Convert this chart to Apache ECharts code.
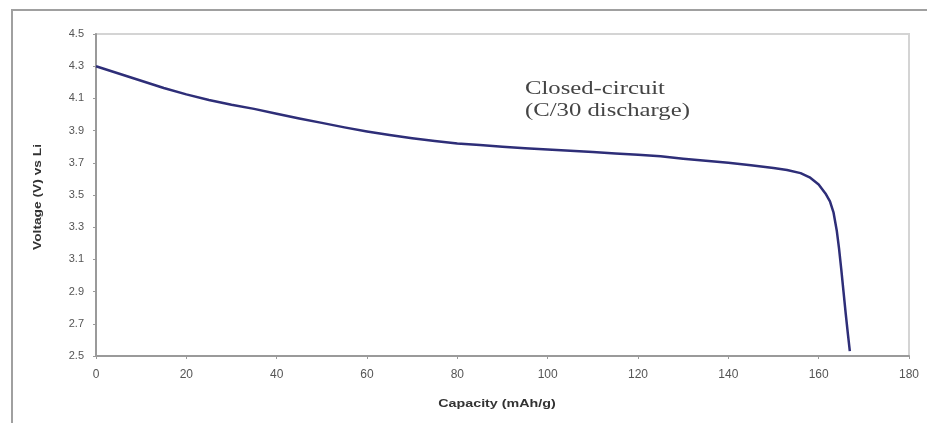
<!DOCTYPE html>
<html>
<head>
<meta charset="utf-8">
<script src="https://cdn.jsdelivr.net/npm/echarts@6/dist/echarts.min.js"></script>
<style>
  html, body { margin: 0; padding: 0; background: #fff; }
  #chart { width: 927px; height: 423px; }
</style>
</head>
<body>
<div id="chart"></div>
<script>
// Discharge curve: capacity (mAh/g) against cell voltage (V vs Li)
const capacity = [0, 5, 10, 15, 20, 25, 30, 35, 40, 45, 50, 55, 60, 65, 70, 75, 80, 85, 90, 95, 100, 105, 110, 115, 120, 125, 130, 135, 140, 145, 150, 153, 156, 158, 160, 161.5, 162.5, 163.3, 164, 164.5, 165, 165.5, 166, 166.5, 166.9];
const voltage  = [4.30, 4.255, 4.21, 4.165, 4.125, 4.09, 4.06, 4.035, 4.005, 3.975, 3.948, 3.92, 3.895, 3.872, 3.852, 3.835, 3.82, 3.81, 3.80, 3.79, 3.782, 3.775, 3.767, 3.758, 3.75, 3.74, 3.725, 3.712, 3.70, 3.685, 3.667, 3.655, 3.636, 3.61, 3.565, 3.51, 3.46, 3.39, 3.28, 3.17, 3.04, 2.90, 2.76, 2.63, 2.53];
const xTicks = { min: 0, max: 180, step: 20 };
const yTicks = { min: 2.5, max: 4.5, step: 0.2 };
const xTitle = 'Capacity (mAh/g)';
const yTitle = 'Voltage (V) vs Li';
const curveLabel = ['Closed-circuit', '(C/30 discharge)'];

const points = capacity.map((c, i) => [c, voltage[i]]);

const chart = echarts.init(document.getElementById('chart'), null, { renderer: 'canvas' });
chart.setOption({
  backgroundColor: '#fff',
  animation: false,
  grid: {
    left: 96, top: 34, right: 18, bottom: 67,
    show: true, borderColor: '#d4d4d4', borderWidth: 2, backgroundColor: '#fff'
  },
  xAxis: {
    type: 'value',
    min: xTicks.min, max: xTicks.max, interval: xTicks.step,
    axisLine: { lineStyle: { color: '#9a9a9a', width: 2 } },
    axisTick: { show: true, length: 3, lineStyle: { color: '#9a9a9a' } },
    axisLabel: { fontFamily: 'Liberation Sans', fontSize: 12, color: '#555', margin: 13 },
    splitLine: { show: false }
  },
  yAxis: {
    type: 'value',
    min: yTicks.min, max: yTicks.max, interval: yTicks.step,
    axisLine: { show: true, lineStyle: { color: '#9a9a9a', width: 2 } },
    axisTick: { show: true, length: 3, lineStyle: { color: '#9a9a9a' } },
    axisLabel: {
      fontFamily: 'Liberation Sans', fontSize: 11, color: '#555', margin: 12,
      formatter: v => v.toFixed(1)
    },
    splitLine: { show: false }
  },
  graphic: [
    {
      // outer chart frame
      type: 'rect', silent: true,
      shape: { x: 12, y: 10, width: 940, height: 440 },
      style: { fill: 'none', stroke: '#a0a0a0', lineWidth: 2 }
    },
    {
      // x axis title
      type: 'text', silent: true,
      x: 497, y: 404, scaleX: 1.3,
      style: {
        text: xTitle, font: 'bold 11px "Liberation Sans"', fill: '#333',
        align: 'center', verticalAlign: 'middle'
      }
    },
    {
      // y axis title
      type: 'text', silent: true,
      x: 38, y: 197, rotation: Math.PI / 2, scaleX: 1.25,
      style: {
        text: yTitle, font: 'bold 11px "Liberation Sans"', fill: '#333',
        align: 'center', verticalAlign: 'middle'
      }
    },
    {
      type: 'text', silent: true,
      x: 525, y: 78, scaleX: 1.3,
      style: {
        text: curveLabel.join('\n'),
        font: '19px "Liberation Serif"',
        lineHeight: 22,
        fill: '#444'
      }
    }
  ],
  series: [{
    type: 'line',
    data: points,
    showSymbol: false,
    smooth: false,
    lineStyle: { color: '#2e2e78', width: 2.5, join: 'round' }
  }]
});
</script>
</body>
</html>
